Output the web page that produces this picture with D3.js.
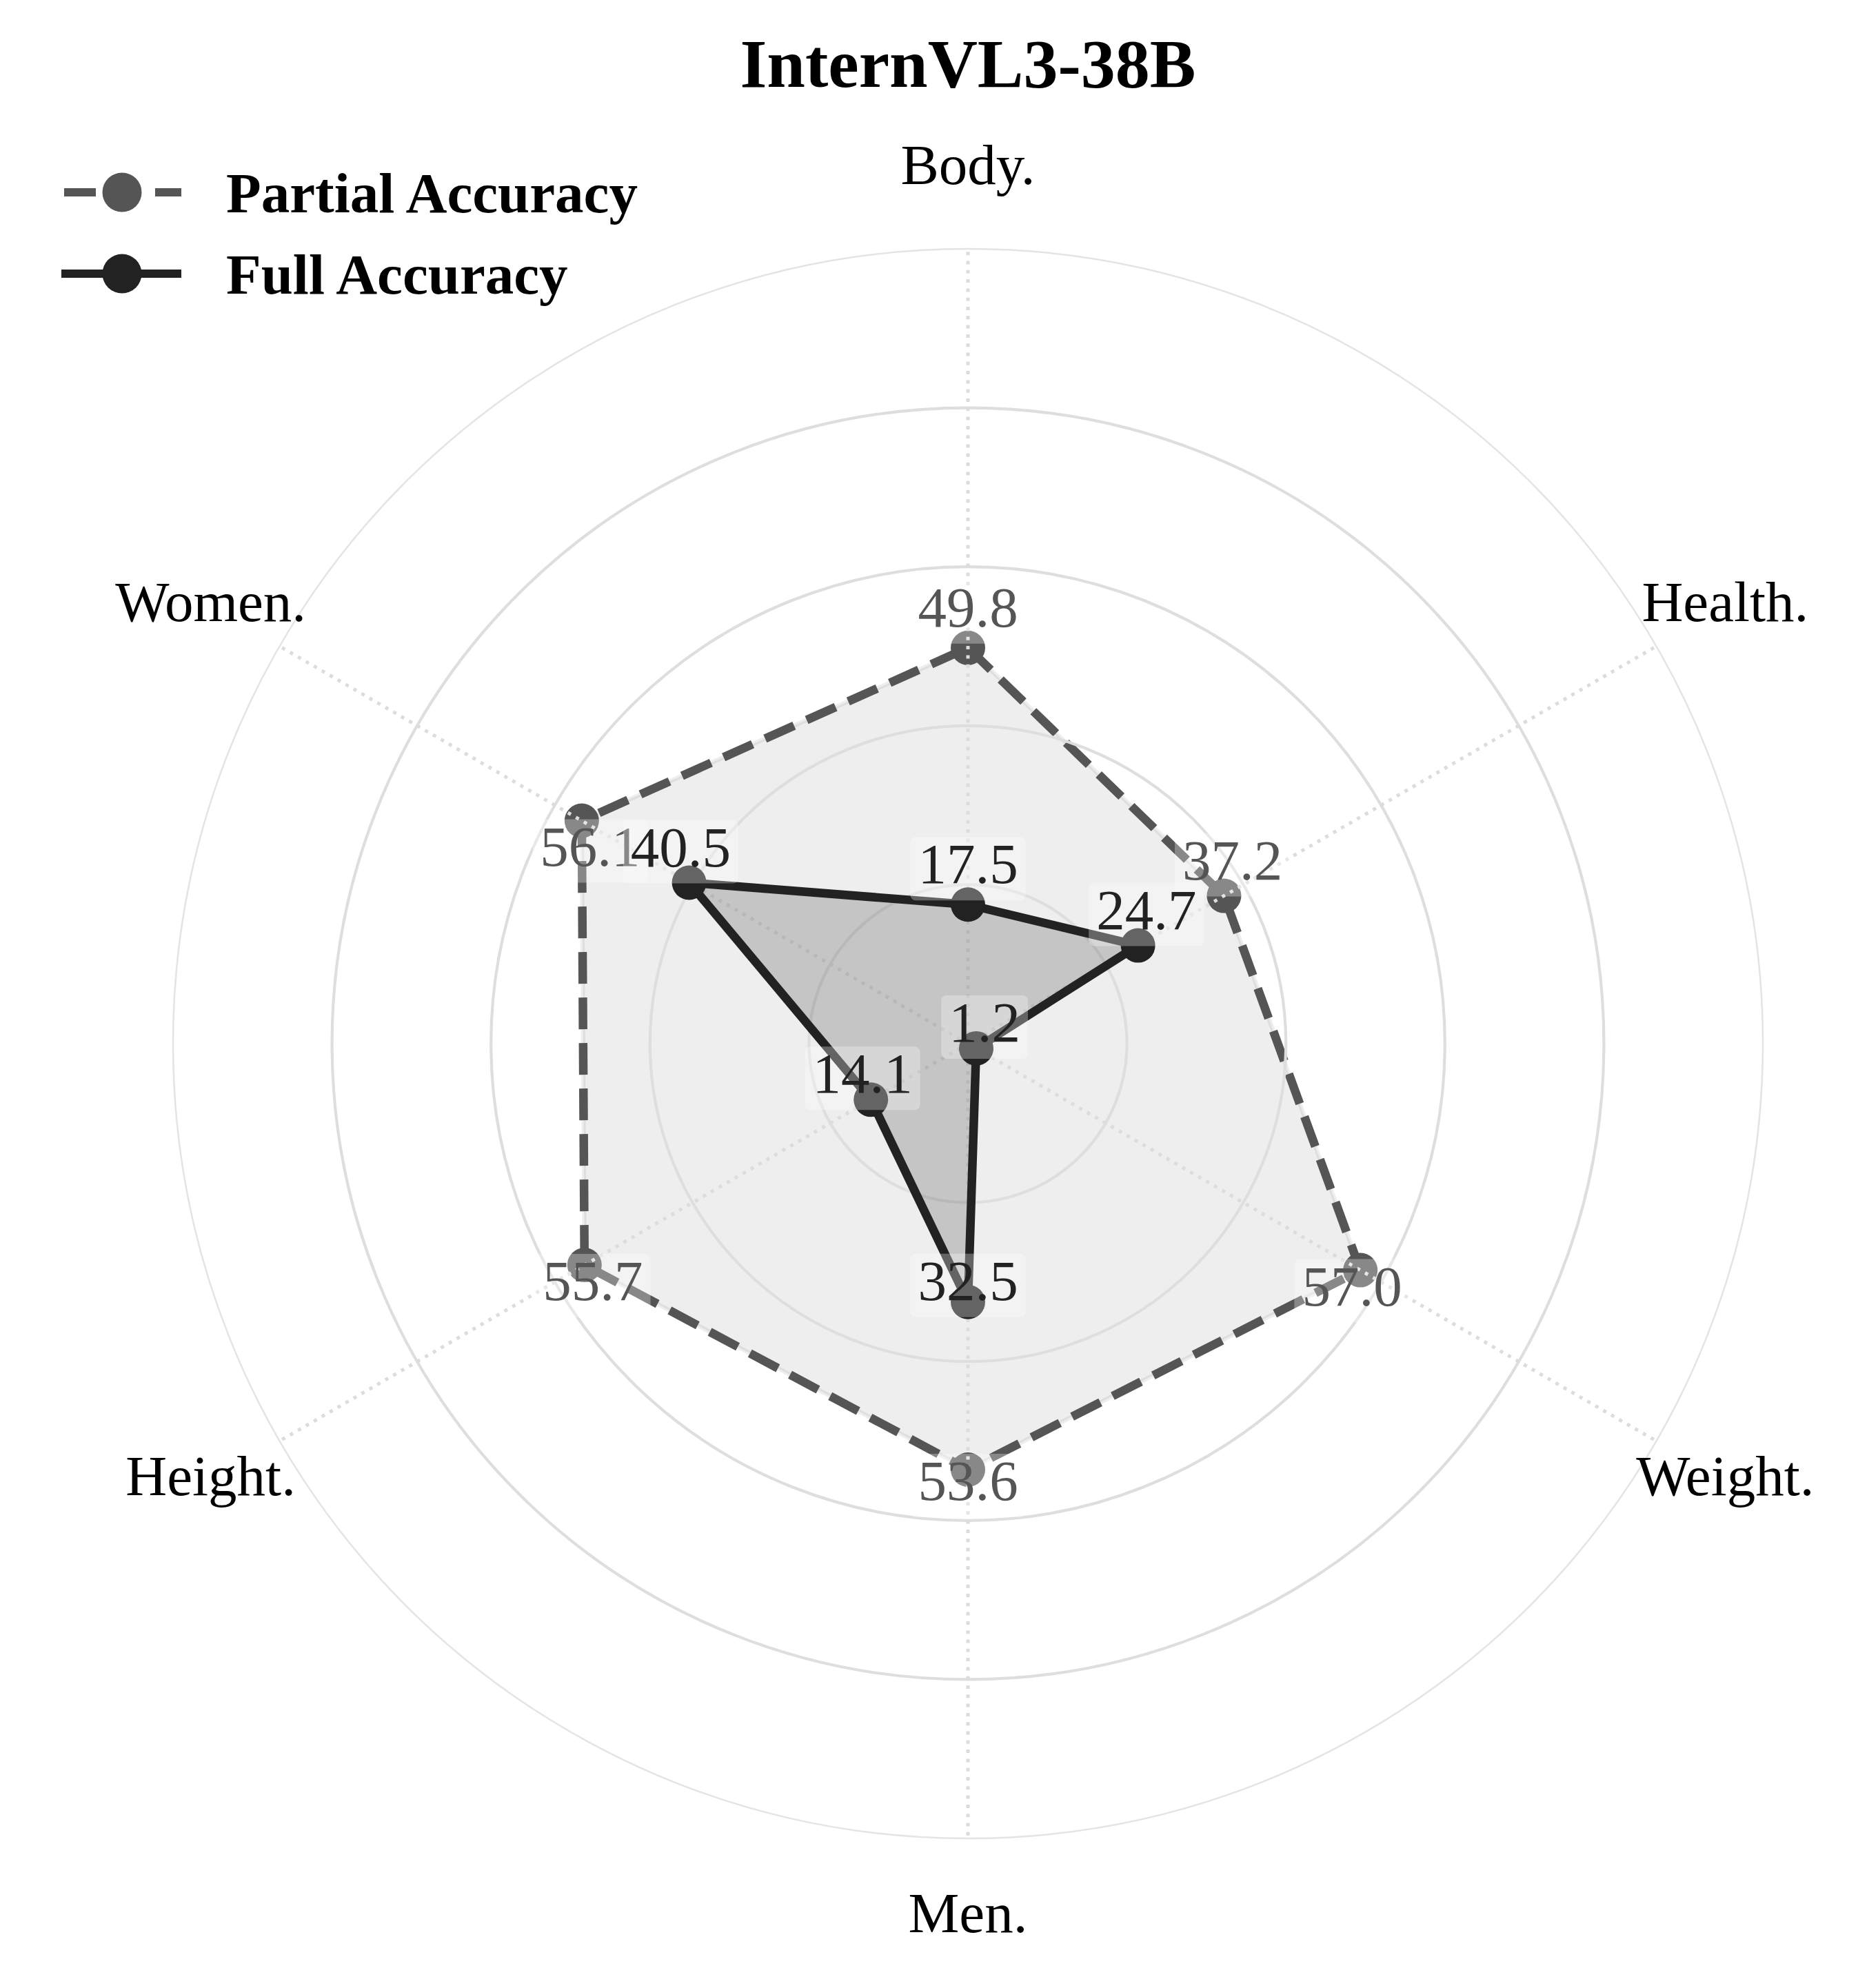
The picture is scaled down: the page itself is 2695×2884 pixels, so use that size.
<!DOCTYPE html>
<html>
<head>
<meta charset="utf-8">
<script src="https://cdn.jsdelivr.net/npm/d3@7"></script>
<style>
  body { margin: 0; background: #fff; }
  svg { display: block; }
  text { font-family: "Liberation Serif", "Times New Roman", serif; }
</style>
</head>
<body>
<script>
const categories = ["Body.", "Health.", "Weight.", "Men.", "Height.", "Women."]
const partialAcc = [49.8, 37.2, 57.0, 53.6, 55.7, 56.1]
const fullAcc = [17.5, 24.7, 1.2, 32.5, 14.1, 40.5]
const ringTicks = [20, 40, 60, 80, 100]
const seriesNames = ["Partial Accuracy", "Full Accuracy"]

const width = 2695,
	height = 2884,
	cx = 1404,
	cy = 1514,
	maxRadius = 1153

const colors = { partial: '#555555', full: '#222222' }
const fontSize = 83
const labelOffset = 14 // radial nudge of value labels, px

const r = d3.scaleLinear().domain([0, 100]).range([0, maxRadius])
const angle = d3.scaleLinear().domain([0, categories.length]).range([0, 2 * Math.PI])

const pos = (i, radius) => {
	const a = angle(i)
	return [cx + radius * Math.sin(a), cy - radius * Math.cos(a)]
}

const svg = d3.select("body")
	.append("svg")
	.attr("width", width)
	.attr("height", height)

svg.append("rect").attr("width", width).attr("height", height).attr("fill", "#fff")

const radar = svg.append("g").attr("transform", `translate(${cx},${cy})`)

const line = d3.lineRadial()
	.angle((d, i) => angle(i))
	.radius(d => r(d))
	.curve(d3.curveLinearClosed)

// partial series sits under the grid
function drawSeries(values, color, fillAlpha, dashed) {
	const g = radar.append("g")
	g.append("path")
		.attr("d", line(values))
		.attr("fill", color)
		.attr("fill-opacity", fillAlpha)
		.attr("stroke", color)
		.attr("stroke-opacity", fillAlpha)
		.attr("stroke-width", 6.25)
	g.append("path")
		.attr("d", line(values))
		.attr("fill", "none")
		.attr("stroke", color)
		.attr("stroke-width", 12.5)
		.attr("stroke-linejoin", "round")
		.attr("stroke-dasharray", dashed ? "46 20" : null)
	g.selectAll("circle")
		.data(values)
		.join("circle")
		.attr("cx", (d, i) => pos(i, r(d))[0] - cx)
		.attr("cy", (d, i) => pos(i, r(d))[1] - cy)
		.attr("r", 25)
		.attr("fill", color)
}

drawSeries(partialAcc, colors.partial, 0.1, true)

// grid: rings + dotted spokes
const grid = radar.append("g")
grid.selectAll("circle")
	.data(ringTicks)
	.join("circle")
	.attr("r", d => r(d))
	.attr("fill", "none")
	.attr("stroke", d => d === 100 ? "#e4e4e4" : "#dedede")
	.attr("stroke-width", d => d === 100 ? 2.5 : 4.2)

grid.selectAll("line")
	.data(categories)
	.join("line")
	.attr("x1", 0).attr("y1", 0)
	.attr("x2", (d, i) => pos(i, r(100))[0] - cx)
	.attr("y2", (d, i) => pos(i, r(100))[1] - cy)
	.attr("stroke", "#dcdcdc")
	.attr("stroke-width", 5)
	.attr("stroke-dasharray", "5 8.3")

drawSeries(fullAcc, colors.full, 0.2, false)

// value labels with faint rounded boxes
const labels = svg.append("g")
	.attr("font-size", fontSize)
	.attr("text-anchor", "middle")

function valueLabels(values, color, placeAbove) {
	values.forEach((v, i) => {
		const up = placeAbove(i)
		const [ax, ay] = pos(i, r(v) + (up ? labelOffset : -labelOffset))
		const baseline = up ? ay - 17 : ay + 58
		const g = labels.append("g")
		const box = g.append("rect")
		const t = g.append("text")
			.attr("x", ax)
			.attr("y", baseline)
			.attr("fill", color)
			.text(v.toFixed(1))
		const w = t.node().getComputedTextLength()
		box.attr("x", ax - w / 2 - 11)
			.attr("y", baseline - 67)
			.attr("width", w + 22)
			.attr("height", 92)
			.attr("rx", 8)
			.attr("fill", "#fff")
			.attr("fill-opacity", 0.3)
	})
}

valueLabels(partialAcc, colors.partial, i => angle(i) < Math.PI / 2)
valueLabels(fullAcc, colors.full, () => true)

// category labels
svg.append("g")
	.attr("font-size", fontSize)
	.attr("text-anchor", "middle")
	.selectAll("text")
	.data(categories)
	.join("text")
	.attr("x", (d, i) => pos(i, r(110))[0])
	.attr("y", (d, i) => pos(i, r(110))[1] + 21)
	.attr("fill", "#000")
	.text(d => d)

// title
svg.append("text")
	.attr("x", cx)
	.attr("y", 126)
	.attr("text-anchor", "middle")
	.attr("font-size", 100)
	.attr("font-weight", "bold")
	.text("InternVL3-38B")

// legend
const legend = svg.append("g")
const legendRows = [
	{ name: seriesNames[0], color: colors.partial, dashed: true },
	{ name: seriesNames[1], color: colors.full, dashed: false }
]
legendRows.forEach((row, k) => {
	const y = 279 + k * 118
	legend.append("line")
		.attr("x1", 89).attr("x2", 263)
		.attr("y1", y).attr("y2", y)
		.attr("stroke", row.color)
		.attr("stroke-width", 12)
		.attr("stroke-dasharray", row.dashed ? "46 20" : null)
		.attr("stroke-dashoffset", row.dashed ? -4 : null)
	legend.append("circle")
		.attr("cx", 177).attr("cy", y)
		.attr("r", 28.5)
		.attr("fill", row.color)
	legend.append("text")
		.attr("x", 328)
		.attr("y", y + 29)
		.attr("font-size", fontSize)
		.attr("font-weight", "bold")
		.text(row.name)
})
</script>
</body>
</html>
